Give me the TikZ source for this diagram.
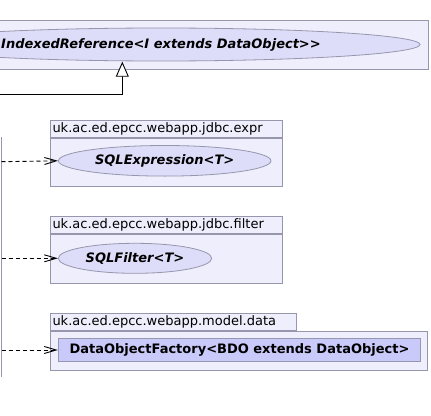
\documentclass[tikz,border=0pt]{standalone}
\usepackage{fontspec}
\setmainfont{DejaVu Sans}
\usetikzlibrary{shapes.geometric,arrows.meta,positioning}

\definecolor{pkgfill}{RGB}{238,238,252}
\definecolor{ifacefill}{RGB}{221,221,250}
\definecolor{classfill}{RGB}{202,202,250}
\definecolor{umlline}{RGB}{150,150,172}

\begin{document}
\begin{tikzpicture}[x=1pt,y=-1pt,
    pkg/.style={draw=umlline, fill=pkgfill, line width=1pt},
    pkgtab/.style={pkg, anchor=north west, inner xsep=2pt, inner ysep=0pt,
        text width=#1, minimum height=17.5pt, align=left,
        font=\fontsize{13}{15}\selectfont},
    pkgbody/.style={pkg, anchor=north west, inner sep=0pt},
    iface/.style={ellipse, draw=umlline, fill=ifacefill, line width=0.8pt,
        inner sep=0pt, font=\bfseries\itshape\fontsize{13}{15}\selectfont},
    cls/.style={rectangle, draw=umlline, fill=classfill, line width=1pt,
        inner sep=0pt, font=\bfseries\fontsize{13}{15}\selectfont},
    dep/.style={dash pattern=on 4pt off 3pt, line width=0.9pt,
        -{Straight Barb[length=12pt,width=7pt]}},
    gen/.style={line width=0.9pt, -{Triangle[length=15pt,width=13pt,fill=white]}}]
    \useasboundingbox (0,0) rectangle (431,415);
    \clip (0,0) rectangle (431,415);

    \draw[pkg] (-10,20) rectangle (428.7,69.3);
    \node[iface, minimum width=518pt, minimum height=33pt] (idxref) at (161,44.5)
        {IndexedReference<I extends DataObject>{}>};

    \draw[umlline, line width=1pt] (1.5,137) -- (1.5,377);

    \node[pkgtab=228pt] (exprtab) at (50,119.5) {uk.ac.ed.epcc.webapp.jdbc.expr};
    \node[pkgbody, minimum width=232pt, minimum height=48pt] (exprbody) at (exprtab.south west) {};
    \node[iface, minimum width=212.6pt, minimum height=30.6pt] (sqlexpr) at (164.7,160.8) {SQLExpression<T>};

    \node[pkgtab=228pt] (filtertab) at (50,215.8) {uk.ac.ed.epcc.webapp.jdbc.filter};
    \node[pkgbody, minimum width=232pt, minimum height=49pt] (filterbody) at (filtertab.south west) {};
    \node[iface, minimum width=153.4pt, minimum height=30pt] (sqlfilter) at (135,258.3) {SQLFilter<T>};

    \node[pkgtab=241.7pt] (datatab) at (50,312.8) {uk.ac.ed.epcc.webapp.model.data};
    \node[pkgbody, minimum width=376.7pt, minimum height=38.6pt] (databody) at (datatab.south west) {};
    \node[cls, minimum width=362.4pt, minimum height=23.4pt] (dofactory) at (239.5,350) {DataObjectFactory<BDO extends DataObject>};

    \coordinate (gensrc) at (-2,94.3);
    \coordinate (gentip) at (122.3,61.7);
    \draw[gen] (gensrc) -| (gentip);

    \coordinate (exprsrc) at (1.5,161.7);
    \coordinate (filtersrc) at (1.5,258.3);
    \coordinate (datasrc) at (1.5,350);
    \draw[dep] (exprsrc) -- (sqlexpr.west);
    \draw[dep] (filtersrc) -- (sqlfilter.west);
    \draw[dep] (datasrc) -- (dofactory.west);
\end{tikzpicture}
\end{document}
